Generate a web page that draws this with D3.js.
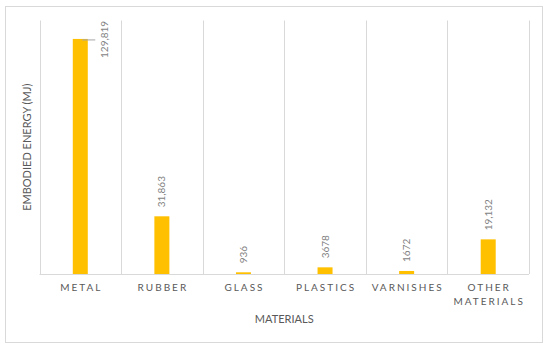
<!DOCTYPE html>
<html><head><meta charset="utf-8">
<script src="https://cdn.jsdelivr.net/npm/d3@7"></script>
<style>body{margin:0;background:#fff}svg{display:block}</style>
</head><body>
<svg id="c" width="550" height="352"></svg>
<script>
const categories = ["METAL", "RUBBER", "GLASS", "PLASTICS", "VARNISHES", "OTHER MATERIALS"];
const values = [129819, 31863, 936, 3678, 1672, 19132];
const valueLabels = ["129,819", "31,863", "936", "3678", "1672", "19,132"];
const yDomain = [0, 140000];

const svg = d3.select("#c");
const font = "Lato, 'Open Sans', sans-serif";
const m = {left: 39.5, right: 529, top: 20.5, bottom: 274};

svg.append("rect").attr("x", 5.5).attr("y", 6.5).attr("width", 537).attr("height", 336)
  .attr("fill", "#fff").attr("stroke", "#d9d9d9").attr("stroke-width", 1);

const x = d3.scaleBand().domain(categories).range([m.left, m.right]).paddingInner(0).paddingOuter(0);
const y = d3.scaleLinear().domain(yDomain).range([m.bottom, m.top]);

// vertical gridlines at category boundaries
const bounds = categories.map(c => x(c)).concat([m.right]);
svg.append("g").selectAll("line").data(bounds).join("line")
  .attr("x1", d => Math.round(d) + 0.5).attr("x2", d => Math.round(d) + 0.5)
  .attr("y1", m.top).attr("y2", m.bottom)
  .attr("stroke", "#d9d9d9").attr("stroke-width", 1);

// baseline
svg.append("line").attr("x1", m.left).attr("x2", m.right).attr("y1", m.bottom + 0.5).attr("y2", m.bottom + 0.5)
  .attr("stroke", "#d9d9d9");

const bw = 15;
svg.append("g").selectAll("rect").data(values).join("rect")
  .attr("x", (d, i) => x(categories[i]) + x.bandwidth() / 2 - bw / 2)
  .attr("y", d => y(d))
  .attr("width", bw)
  .attr("height", d => m.bottom - y(d))
  .attr("fill", "#FFC000");

// data labels
const lg = svg.append("g");
values.forEach((v, i) => {
  const cx = x(categories[i]) + x.bandwidth() / 2;
  let lx = cx + 3.5, ly = y(v) - 9;
  if (i === 0) {
    lx = cx + 28; ly = y(v) + 19;
    lg.append("line").attr("x1", cx + 2).attr("x2", cx + 15).attr("y1", y(v) + 1).attr("y2", y(v) + 1)
      .attr("stroke", "#a6a6a6").attr("stroke-width", 1);
  }
  lg.append("text").attr("transform", `translate(${lx},${ly}) rotate(-90)`)
    .attr("text-anchor", "start").attr("font-family", font).attr("font-size", 10)
    .attr("fill", "#7f7f7f").text(valueLabels[i]);
});

// category labels
categories.forEach((c, i) => {
  const cx = x(c) + x.bandwidth() / 2 + 1;
  const lines = c === "OTHER MATERIALS" ? ["OTHER", "MATERIALS"] : [c];
  const t = svg.append("text").attr("text-anchor", "middle").attr("font-family", font)
    .attr("font-size", 10).attr("fill", "#595959").attr("letter-spacing", "2px");
  lines.forEach((l, k) => t.append("tspan").attr("x", cx).attr("y", 291 + k * 13.5).text(l));
});

// axis titles
svg.append("text").attr("x", (m.left + m.right) / 2).attr("y", 323).attr("text-anchor", "middle")
  .attr("font-family", font).attr("font-size", 11).attr("fill", "#595959").text("MATERIALS");
svg.append("text").attr("transform", `translate(31,${(m.top + m.bottom) / 2}) rotate(-90)`)
  .attr("text-anchor", "middle").attr("font-family", font).attr("font-size", 11)
  .attr("fill", "#595959").text("EMBODIED ENERGY (MJ)");
</script>
</body></html>
